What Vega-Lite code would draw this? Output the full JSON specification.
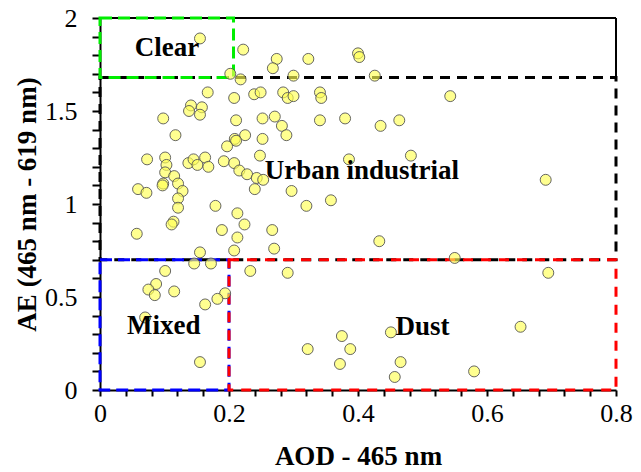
{
  "$schema": "https://vega.github.io/schema/vega-lite/v6.json",
  "width": 516,
  "height": 372,
  "autosize": {"type": "none"},
  "padding": {"left": 100, "top": 18, "right": 25, "bottom": 82},
  "background": "white",
  "config": {
    "view": {"stroke": null},
    "font": "Liberation Serif",
    "axis": {"grid": false, "ticks": true, "tickColor": "black", "tickWidth": 2, "tickOpacity": 1},
    "axisY": {"tickSize": 8},
    "axisX": {"tickSize": 6}
  },
  "datasets": {
    "urban": [{"x": 0, "x2": 0.8, "y": 0.7, "y2": 1.68}],
    "mixed": [{"x": 0, "x2": 0.2, "y": 0, "y2": 0.7}],
    "dust": [{"x": 0.2, "x2": 0.8, "y": 0, "y2": 0.7}],
    "clear": [{"x": 0, "x2": 0.207, "y": 1.68, "y2": 2}],
    "frame": [
      {"x": 0, "x2": 0.8, "y": 2, "y2": 2},
      {"x": 0.8, "x2": 0.8, "y": 1.68, "y2": 2}
    ],
    "labels": [
      {"label": "Clear", "x": 0.104, "y": 1.84},
      {"label": "Urban industrial", "x": 0.406, "y": 1.177},
      {"label": "Mixed", "x": 0.099, "y": 0.342},
      {"label": "Dust", "x": 0.5, "y": 0.339}
    ],
    "points": [
      {"x": 0.155, "y": 1.89}, {"x": 0.222, "y": 1.83}, {"x": 0.274, "y": 1.78}, {"x": 0.323, "y": 1.78},
      {"x": 0.400, "y": 1.81}, {"x": 0.402, "y": 1.79}, {"x": 0.268, "y": 1.73}, {"x": 0.202, "y": 1.70},
      {"x": 0.300, "y": 1.69}, {"x": 0.218, "y": 1.67}, {"x": 0.167, "y": 1.60}, {"x": 0.208, "y": 1.57},
      {"x": 0.239, "y": 1.59}, {"x": 0.249, "y": 1.60}, {"x": 0.284, "y": 1.60}, {"x": 0.291, "y": 1.57},
      {"x": 0.300, "y": 1.58}, {"x": 0.341, "y": 1.60}, {"x": 0.343, "y": 1.57}, {"x": 0.141, "y": 1.53},
      {"x": 0.138, "y": 1.50}, {"x": 0.158, "y": 1.52}, {"x": 0.155, "y": 1.48}, {"x": 0.098, "y": 1.46},
      {"x": 0.211, "y": 1.45}, {"x": 0.252, "y": 1.46}, {"x": 0.271, "y": 1.47}, {"x": 0.282, "y": 1.42},
      {"x": 0.289, "y": 1.37}, {"x": 0.341, "y": 1.45}, {"x": 0.380, "y": 1.46}, {"x": 0.117, "y": 1.37},
      {"x": 0.225, "y": 1.37}, {"x": 0.209, "y": 1.35}, {"x": 0.211, "y": 1.34}, {"x": 0.197, "y": 1.31},
      {"x": 0.252, "y": 1.35}, {"x": 0.073, "y": 1.24}, {"x": 0.101, "y": 1.25}, {"x": 0.103, "y": 1.21},
      {"x": 0.101, "y": 1.17}, {"x": 0.115, "y": 1.15}, {"x": 0.121, "y": 1.11}, {"x": 0.098, "y": 1.11},
      {"x": 0.097, "y": 1.10}, {"x": 0.128, "y": 1.07}, {"x": 0.121, "y": 1.03}, {"x": 0.121, "y": 0.98},
      {"x": 0.059, "y": 1.08}, {"x": 0.072, "y": 1.06}, {"x": 0.137, "y": 1.22}, {"x": 0.145, "y": 1.24},
      {"x": 0.151, "y": 1.21}, {"x": 0.163, "y": 1.25}, {"x": 0.168, "y": 1.20}, {"x": 0.192, "y": 1.23},
      {"x": 0.208, "y": 1.22}, {"x": 0.216, "y": 1.18}, {"x": 0.228, "y": 1.16}, {"x": 0.243, "y": 1.14},
      {"x": 0.253, "y": 1.13}, {"x": 0.248, "y": 1.26}, {"x": 0.240, "y": 1.08}, {"x": 0.297, "y": 1.07},
      {"x": 0.386, "y": 1.24}, {"x": 0.320, "y": 0.99}, {"x": 0.358, "y": 1.02}, {"x": 0.179, "y": 0.99},
      {"x": 0.426, "y": 1.69}, {"x": 0.543, "y": 1.58}, {"x": 0.435, "y": 1.42}, {"x": 0.464, "y": 1.45},
      {"x": 0.482, "y": 1.26}, {"x": 0.691, "y": 1.13}, {"x": 0.213, "y": 0.95}, {"x": 0.224, "y": 0.89},
      {"x": 0.114, "y": 0.905}, {"x": 0.111, "y": 0.89}, {"x": 0.057, "y": 0.84}, {"x": 0.189, "y": 0.86},
      {"x": 0.213, "y": 0.82}, {"x": 0.267, "y": 0.86}, {"x": 0.270, "y": 0.76}, {"x": 0.208, "y": 0.75},
      {"x": 0.155, "y": 0.74}, {"x": 0.146, "y": 0.68}, {"x": 0.172, "y": 0.68}, {"x": 0.233, "y": 0.64},
      {"x": 0.291, "y": 0.63}, {"x": 0.101, "y": 0.64}, {"x": 0.087, "y": 0.57}, {"x": 0.075, "y": 0.54},
      {"x": 0.085, "y": 0.51}, {"x": 0.115, "y": 0.53}, {"x": 0.194, "y": 0.52}, {"x": 0.182, "y": 0.49},
      {"x": 0.163, "y": 0.46}, {"x": 0.070, "y": 0.39}, {"x": 0.155, "y": 0.15}, {"x": 0.375, "y": 0.29},
      {"x": 0.388, "y": 0.22}, {"x": 0.372, "y": 0.14}, {"x": 0.322, "y": 0.22}, {"x": 0.433, "y": 0.80},
      {"x": 0.550, "y": 0.71}, {"x": 0.695, "y": 0.63}, {"x": 0.451, "y": 0.31}, {"x": 0.652, "y": 0.34},
      {"x": 0.466, "y": 0.15}, {"x": 0.457, "y": 0.07}, {"x": 0.580, "y": 0.10}
    ]
  },
  "encoding": {
    "x": {
      "field": "x", "type": "quantitative",
      "scale": {"domain": [0, 0.8], "nice": false, "zero": false},
      "axis": {
        "title": "AOD - 465 nm",
        "values": [0, 0.04, 0.08, 0.12, 0.16, 0.2, 0.24, 0.28, 0.32, 0.36, 0.4, 0.44, 0.48, 0.52, 0.56, 0.6, 0.64, 0.68, 0.72, 0.76, 0.8],
        "labelExpr": "abs(datum.value*5-round(datum.value*5))<0.001 ? format(datum.value, '~g') : ''",
        "labelOverlap": false,
        "labelFlush": false,
        "labelFontSize": 26,
        "labelColor": "black",
        "labelPadding": 4,
        "domainColor": "black",
        "domainWidth": 2,
        "titleFontSize": 27,
        "titleFontWeight": "bold",
        "titleColor": "black",
        "titleBaseline": "middle",
        "titleY": 66
      }
    },
    "y": {
      "field": "y", "type": "quantitative",
      "scale": {"domain": [0, 2], "nice": false, "zero": false},
      "axis": {
        "title": "AE (465 nm - 619 nm)",
        "values": [0, 0.1, 0.2, 0.3, 0.4, 0.5, 0.6, 0.7, 0.8, 0.9, 1, 1.1, 1.2, 1.3, 1.4, 1.5, 1.6, 1.7, 1.8, 1.9, 2],
        "labelExpr": "abs(datum.value*2-round(datum.value*2))<0.001 ? format(datum.value, '~g') : ''",
        "labelOverlap": false,
        "labelFlush": false,
        "labelFontSize": 26,
        "labelColor": "black",
        "labelPadding": 15,
        "domainColor": "black",
        "domainWidth": 2,
        "titleFontSize": 27,
        "titleFontWeight": "bold",
        "titleColor": "black",
        "titleAngle": -90,
        "titleAlign": "center",
        "titleBaseline": "middle",
        "titleX": -73,
        "titleY": 186
      }
    }
  },
  "layer": [
    {
      "data": {"name": "urban"},
      "mark": {"type": "rect", "fill": null, "fillOpacity": 0, "stroke": "black", "strokeWidth": 3, "strokeDash": [10, 7]},
      "encoding": {"x2": {"field": "x2"}, "y2": {"field": "y2"}}
    },
    {
      "data": {"name": "mixed"},
      "mark": {"type": "rect", "fill": null, "fillOpacity": 0, "stroke": "#0000FF", "strokeWidth": 3, "strokeDash": [12, 6]},
      "encoding": {"x2": {"field": "x2"}, "y2": {"field": "y2"}}
    },
    {
      "data": {"name": "dust"},
      "mark": {"type": "rect", "fill": null, "fillOpacity": 0, "stroke": "#FF0000", "strokeWidth": 3, "strokeDash": [10, 8]},
      "encoding": {"x2": {"field": "x2"}, "y2": {"field": "y2"}}
    },
    {
      "data": {"name": "frame"},
      "mark": {"type": "rule", "color": "black", "strokeWidth": 2},
      "encoding": {"x2": {"field": "x2"}, "y2": {"field": "y2"}}
    },
    {
      "data": {"name": "clear"},
      "mark": {"type": "rect", "fill": null, "fillOpacity": 0, "stroke": "#00EE00", "strokeWidth": 3, "strokeDash": [12, 6]},
      "encoding": {"x2": {"field": "x2"}, "y2": {"field": "y2"}}
    },
    {
      "data": {"name": "points"},
      "mark": {"type": "point", "shape": "circle", "filled": true, "fill": "#FFFF55", "fillOpacity": 0.65, "stroke": "#555555", "strokeWidth": 1, "strokeOpacity": 0.9, "size": 120, "opacity": 1}
    },
    {
      "data": {"name": "labels"},
      "mark": {"type": "text", "fontWeight": "bold", "fontSize": 27, "color": "black", "align": "center", "baseline": "middle"},
      "encoding": {"text": {"field": "label"}}
    }
  ]
}
